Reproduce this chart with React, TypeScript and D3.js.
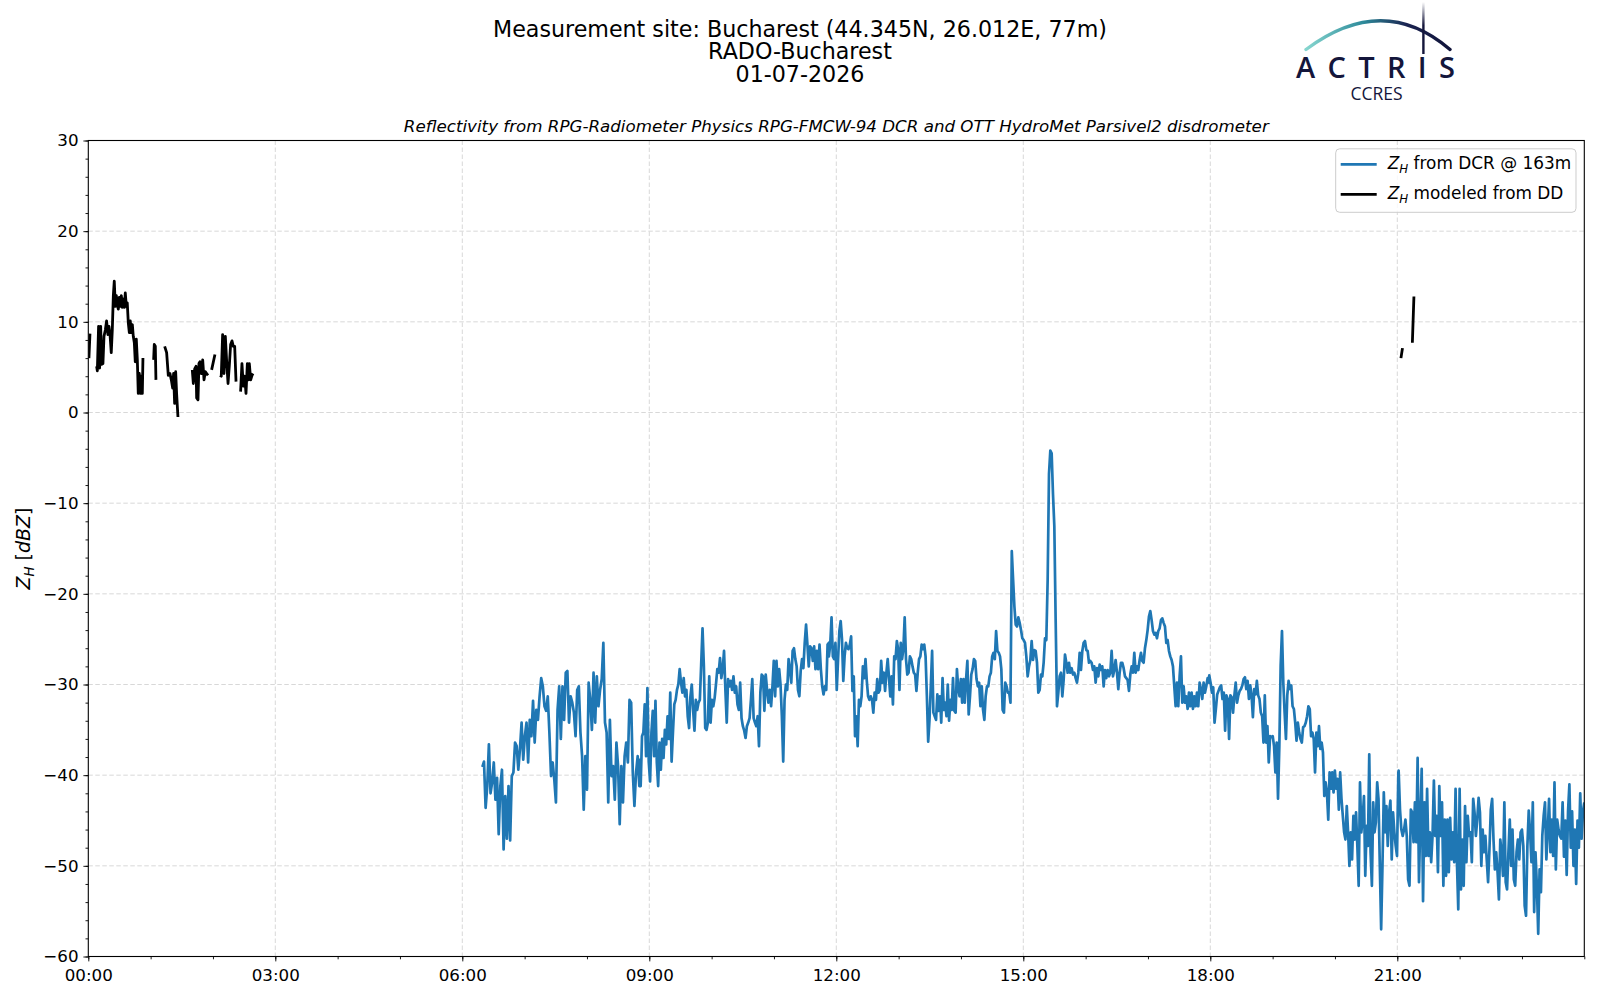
import React, { useRef, useEffect } from "react";
import * as d3 from "d3";

const W = 1600;
const H = 1000;

const titleLines = [
  "Measurement site: Bucharest (44.345N, 26.012E, 77m)",
  "RADO-Bucharest",
  "01-07-2026",
];
const subtitle =
  "Reflectivity from RPG-Radiometer Physics RPG-FMCW-94 DCR and OTT HydroMet Parsivel2 disdrometer";

// axis ticks (x in minutes since 00:00)
const xMajorTicks = [0, 180, 360, 540, 720, 900, 1080, 1260];
const xMinorTicks = d3.range(0, 1441, 60);
const yMajorTicks = [30, 20, 10, 0, -10, -20, -30, -40, -50, -60];
const yMinorTicks = d3.range(-60, 31, 2);

// Z_H modeled from DD: [minute, dBZ], null = no data
const ddReadings: [number, number | null][] = [
  [0.6, 6.0], [1.6, 8.7], [2, null],
  [8.0, 5.1], [8.7, 4.6], [9.9, 9.5], [10.9, 4.9], [11.9, 9.5], [12.8, 5.3], [14.1, 5.4],
  [15.1, 8.4], [16.4, 9.1], [17.6, 10.1], [18.9, 8.6], [19.9, 9.5], [20.9, 8.6], [22.1, 6.6],
  [23.1, 9.1], [24.1, 12.9], [25.0, 14.5], [26.0, 11.7], [27.0, 12.9], [27.9, 11.9], [28.9, 11.4],
  [29.8, 12.7], [30.8, 11.7], [31.8, 12.9], [32.7, 11.6], [33.7, 12.5], [34.7, 11.6], [35.6, 13.2],
  [36.6, 11.7], [37.5, 12.1], [38.5, 9.9], [39.5, 8.8], [40.4, 10.1], [41.4, 8.8], [42.4, 9.7],
  [43.3, 8.4], [44.3, 7.7], [45.2, 5.6], [46.2, 8.1], [47.2, 5.8], [48.1, 2.1], [49.1, 4.3],
  [50.1, 2.1], [51.0, 4.0], [52.0, 2.1], [52.6, 6.0], [53, null],
  [62.9, 5.8], [63.5, 7.5], [64.5, 7.3], [65.1, 3.6], [66, null],
  [73.5, 7.3], [75.4, 6.6], [77.0, 4.1], [78.6, 4.3], [79.9, 3.6], [81.2, 2.7], [82.1, 4.3],
  [83.1, 1.0], [84.1, 4.5], [85.0, 2.1], [86.3, -0.5], [87, null],
  [100.1, 4.7], [101.1, 3.2], [102.4, 4.8], [103.7, 5.1], [104.3, 1.6], [105.6, 1.4], [106.5, 5.4],
  [107.5, 5.6], [108.8, 4.3], [110.1, 5.8], [111.4, 3.6], [112.6, 4.5], [113.9, 4.3], [115.2, 4.1],
  [116, null],
  [118.7, 4.7], [121.9, 6.4], [123, null],
  [126.8, 4.1], [128.0, 4.0], [129.3, 8.6], [130.6, 4.3], [131.9, 8.4], [133.2, 5.6], [134.5, 3.2],
  [135.7, 5.1], [137.0, 7.5], [138.3, 7.9], [139.6, 7.3], [140.9, 7.3], [142.2, 3.4], [143, null],
  [146.6, 2.3], [147.9, 5.4], [149.2, 2.9], [150.5, 4.0], [151.8, 2.1], [153.1, 5.4], [154.0, 3.6],
  [155.0, 5.4], [156.3, 3.6], [157.6, 4.1], [158.5, 4.3], [159, null],
  [1263.5, 6.0], [1265, 7.1], [1266, null],
  [1274.5, 7.7], [1276, 12.8],
];

// Z_H from DCR: readings taken at an even pace inside each block
const dcrBlockStart = [379.3, 530.4, 712.9, 896.5, 1079, 1261.3];
const dcrBlockEnd = [530.4, 712.9, 895.2, 1078.7, 1261, 1440];

const dcr0619 = [
  -39.1, -38.5, -43.6, -41.2, -36.6, -42, -40.8, -38.6, -42.7, -40.3, -46.5, -41.2, -39.4, -48.2,
  -42.3, -47, -41.2, -47.2, -40.1, -39.7, -36.4, -36.8, -39.4, -37.1, -34.2, -38.3, -35.7, -34.2,
  -38.6, -33.9, -35.7, -31.8, -36.4, -32.8, -33.9, -31.3, -29.3, -30.2, -32.4, -32.9, -31.3, -35.3,
  -40.1, -38.6, -40.5, -43, -32.8, -30.2, -36, -30.2, -33.9, -28.7, -28.5, -34.2, -31.3, -32,
  -33.1, -35.7, -30.6, -30.2, -35.3, -37.9, -43.8, -37.9, -41.6, -29.8, -31.7, -35, -28.7, -34.2,
  -29.1, -32.4, -30.6, -29.4, -25.4, -34.2, -35.3, -43, -33.9, -40.1, -39, -42.7, -36.4, -39,
  -45.4, -39, -43, -37.9, -36.4, -38.6, -31.7, -32, -39.7, -43.4, -39.7, -37.9, -41.2,
];

const dcr0850 = [
  -38.3, -41.2, -35.7, -35.3, -32.2, -37.9, -30.4, -38.5, -40.7, -35.3, -32.9, -37.9, -31.8, -38.6,
  -41.2, -36.4, -39.4, -36, -38.1, -35, -36.6, -33.5, -36, -30.9, -38.5, -35.3, -32.2, -31.7,
  -30.6, -30, -28.3, -29.8, -30.9, -29.3, -31.3, -30.6, -33.5, -34.8, -31.3, -30, -32.8, -35.1,
  -31.7, -32.8, -32, -31.7, -27.8, -23.8, -28, -34.8, -35, -34.2, -29.1, -34.2, -31.7, -32.4,
  -31.5, -30, -28.3, -28.7, -27.1, -29.3, -28.3, -26.3, -30.6, -34.2, -29.4, -30.2, -29.6, -30.6,
  -29.1, -30.9, -30.2, -32.2, -32.8, -29.8, -33.7, -34.6, -35.1, -35.9, -34.6, -34.2, -33.7, -31.7,
  -29.4, -33.7, -34.2, -34.6, -33.5, -36.8, -30.9, -28.9, -29.1, -32.9, -28.9, -30.6, -32, -30.6,
  -32.4, -30.2, -27.4, -31.3, -27.4, -30.2, -28.3, -30, -33.5, -38.5, -31.7, -30, -30.6, -27.2,
  -28.3, -29.8, -26.3, -26, -27.2, -28, -30.6, -31.3, -28.5, -27.2, -28.2, -25.4, -23.4, -25.6,
  -28, -25.8, -26, -27.4, -25.8, -28.3, -26.3, -28.3, -25.6, -28.3, -30.2, -31.1, -30.2, -30.6,
  -25.6, -25.4,
];

const dcr1153 = [
  -26.9, -25.6, -22.6, -26.9, -27.2, -25.4, -30.6, -27.2, -24.1, -23, -25, -29.6, -26.9, -25.4,
  -26, -26.1, -25.6, -24.7, -30.7, -29.1, -35.7, -33.5, -36.8, -31.7, -32.4, -31.3, -28, -29.3,
  -27.2, -29.6, -31.3, -31.7, -31.3, -31.7, -33.1, -30.9, -31.7, -29.4, -30.9, -30.6, -27.4, -29.8,
  -28.7, -30.7, -28.7, -27.2, -29.3, -31.3, -29.1, -32.2, -26.9, -27.2, -25.2, -26.1, -30.6, -25.4,
  -27.2, -26.1, -22.6, -27.2, -28.9, -28.7, -26.9, -27.2, -28, -28.7, -28.9, -30.7, -28.7, -27.2,
  -26.9, -25.6, -26.1, -25.6, -26.9, -31.3, -36.3, -33.9, -30.2, -26.3, -33.1, -33.5, -33.9, -31.1,
  -32.9, -31.3, -34.2, -29.3, -32.8, -32, -33.5, -30, -34, -31.7, -32.8, -29.3, -32.9, -33.1,
  -28.3, -30.4, -31.3, -29.4, -32, -29.4, -32, -29.4, -27.4, -33.3, -31.3, -28.9, -28.3, -27.2,
  -27.4, -29.4, -30.2, -29.8, -32.4, -30.2, -32.8, -33.9, -31.3, -30.2, -30.2, -29.1, -28.7, -26.9,
  -26.5, -27.2, -24.1, -26.3, -26.5, -26.9, -28.3, -32.8, -33.1, -29.8, -30.2, -30.9, -30.9, -32,
  -15.3, -18.4, -21.4, -23.4, -23.6, -22.6,
];

const dcr1455 = [
  -23.2, -24, -24.9, -25.1, -25.4, -26.9, -29.1, -28, -27.3, -25.2, -27.3, -26.2, -26.3, -27.6,
  -30.9, -30.6, -28.9, -29.1, -27.6, -24.9, -25.1, -18.5, -6.8, -4.2, -4.5, -9, -12.5, -22.9,
  -32.4, -30.9, -29.1, -28.7, -31.3, -29.5, -26.7, -27.6, -28.7, -27.6, -28.7, -28.2, -28.9, -28.7,
  -29.3, -29.8, -28.7, -26.5, -28.4, -26.3, -25.4, -25.2, -26.2, -26.3, -27.6, -27.4, -27.6, -28.4,
  -28, -29.8, -28.2, -29.1, -27.8, -28.4, -28, -30.2, -28.4, -29.3, -28.4, -29.1, -28.7, -26.3,
  -29.1, -28.4, -27.3, -28.7, -30.5, -28.7, -27.6, -27.6, -28.2, -29.1, -29.3, -29.5, -30.7, -28.9,
  -28, -28.7, -26.5, -28.7, -28, -28.4, -27.3, -26.5, -27.4, -27.6, -26, -25.1, -24, -22.5,
  -21.9, -22.9, -24.1, -24.5, -24.3, -24.9, -24.1, -23.8, -22.9, -22.7, -23.2, -23.6, -25.4, -25.1,
  -26.3, -26.9, -27.3, -28, -30.2, -32.4, -29.8, -32.4, -29.1, -26.9, -32, -30.2, -32, -31.3,
  -32.7, -30.9, -32.4, -30.9, -32.7, -31.3, -32.4, -30.9, -32.4, -29.8, -30.5, -31.6, -29.8, -30.9,
  -30.2, -29.3, -29.8,
];

const dcr1758 = [
  -29, -29.8, -30.9, -30.3, -34.2, -32.7, -31.1, -30.7, -30.3, -30.1, -31.6, -30.9, -35.1, -31.2,
  -31.6, -36, -31.2, -31.4, -33.1, -31.2, -29.8, -32, -31.2, -30.7, -30.5, -30.1, -29.4, -29.2,
  -30.5, -29.6, -31.6, -30.1, -31.2, -33.6, -30.5, -31.1, -29.6, -31.2, -31.6, -33.1, -33.5, -36.4,
  -31.2, -36.4, -34.6, -38.6, -35.7, -35.8, -35.7, -36.8, -39.7, -36.4, -42.6, -36.8, -27.9, -24.1,
  -29.8, -33.1, -36, -31.2, -29.6, -30.5, -30.1, -32.4, -32.7, -34.2, -36.2, -34.2, -35.3, -36,
  -36.4, -34.7, -34.6, -34.2, -33.5, -32.4, -32.7, -35.7, -35.3, -36, -39.7, -35.3, -36.8, -34.6,
  -37.1, -36.4, -37.5, -42.3, -40.8, -41.9, -44.9, -39.7, -41.5, -39.7, -41.9, -39.5, -41.5, -40.4,
  -43.8, -39.7, -42.6, -44.5, -46.3, -47.1, -43.4, -46.3, -50, -46.3, -49.3, -44.5, -47.1, -44.1,
  -47.8, -52.2, -40.8, -46.3, -44.9, -42.3, -51.1, -45.6, -47.8, -37.7, -48.5, -52.2, -43, -46.3,
  -45.2, -40.8, -42.6, -50, -57, -50, -41.9, -46.3, -43.4, -47.8, -44.1, -42.8, -49.3, -44.1,
  -46.3, -47.8, -48.9, -39.7,
];

const dcr2101 = [
  -39.5, -43.8, -46, -46.7, -46, -44.9, -46.7, -51.5, -52.2, -43.8, -44.1, -47.4, -43, -47.4,
  -38.1, -51.8, -44.9, -39.3, -53.9, -43, -48.9, -41.5, -48.9, -46.3, -49.6, -46.7, -40.6, -46.7,
  -44.5, -50.7, -41.2, -46.7, -43, -52.2, -44.9, -51.1, -44.9, -50.7, -44.7, -49.3, -46.3, -49.6,
  -41.5, -49.6, -54.8, -41.5, -52.6, -47.1, -52.2, -43.4, -49.6, -44.5, -46.7, -46.3, -49.6, -42.6,
  -44.1, -46.7, -44.9, -42.5, -44.1, -50, -46, -48.5, -46.7, -49.3, -51.8, -48.2, -43.8, -42.6,
  -47.1, -50.4, -48.5, -50.7, -53.7, -47.1, -48.5, -51.1, -43, -51.8, -52.6, -48.5, -44.9, -50,
  -46, -51.5, -52.2, -48.5, -47.1, -49.3, -46.3, -46, -47.8, -54.4, -55.5, -47.8, -43.9, -46.3,
  -49.6, -43, -55.1, -48.5, -52.2, -57.5, -50.4, -52.9, -46.7, -44.5, -43, -49.3, -46.3, -42.6,
  -48.5, -44.9, -48.9, -40.8, -50.4, -44.9, -46, -46.7, -47, -43, -49, -45, -51, -44, -41, -48,
  -44, -50, -46, -52, -45, -48, -42, -47, -44, -43,
];

const dcrBlocks = [dcr0619, dcr0850, dcr1153, dcr1455, dcr1758, dcr2101];

const DCR_COLOR = "#1f77b4";
const FONT = "DejaVu Sans, sans-serif";
const NAVY = "#14163b";

const fmtTime = (m: number) =>
  `${String(Math.floor(m / 60)).padStart(2, "0")}:${String(m % 60).padStart(2, "0")}`;
const fmtNum = (v: number) => (v < 0 ? `\u2212${Math.abs(v)}` : `${v}`);

// writes "Z_H" as mathtext-like tspans into a text selection
const zh = (t: d3.Selection<SVGTextElement, unknown, null, undefined>, size: number) => {
  t.append("tspan").attr("font-style", "italic").text("Z");
  t.append("tspan")
    .attr("font-style", "italic")
    .attr("font-size", size * 0.7)
    .attr("dy", size * 0.22)
    .text("H");
  return t;
};

const App = () => {
  const ref = useRef<SVGSVGElement | null>(null);

  useEffect(() => {
    if (!ref.current) return;
    const svg = d3.select(ref.current);
    svg.selectAll("*").remove();

    const margin = { top: 140.5, right: 15.7, bottom: 43.5, left: 88.3 };
    const width = W - margin.left - margin.right;
    const height = H - margin.top - margin.bottom;

    const x = d3.scaleLinear().domain([0, 1440]).range([0, width]);
    const y = d3.scaleLinear().domain([-60, 30]).range([height, 0]);

    const defs = svg.append("defs");
    defs
      .append("clipPath")
      .attr("id", "plot-clip")
      .append("rect")
      .attr("width", width)
      .attr("height", height);

    svg.append("rect").attr("width", W).attr("height", H).attr("fill", "#ffffff");

    // titles
    svg
      .append("g")
      .selectAll("text")
      .data(titleLines)
      .join("text")
      .attr("x", 800)
      .attr("y", (_, i) => 36.6 + i * 22.6)
      .attr("text-anchor", "middle")
      .style("font-family", FONT)
      .style("font-size", "22.2px")
      .attr("fill", "#000")
      .text((d) => d);

    svg
      .append("text")
      .attr("x", margin.left + width / 2)
      .attr("y", margin.top - 8.5)
      .attr("text-anchor", "middle")
      .style("font-family", FONT)
      .style("font-size", "16.7px")
      .style("font-style", "italic")
      .text(subtitle);

    const chart = svg
      .append("g")
      .attr("transform", `translate(${margin.left},${margin.top})`);

    // grid lines
    const grid = chart
      .append("g")
      .attr("stroke", "#d4d4d4")
      .attr("stroke-width", 0.9)
      .attr("stroke-dasharray", "4.5,2.5");
    grid
      .selectAll(".gx")
      .data(xMajorTicks.slice(1))
      .join("line")
      .attr("x1", (d) => x(d))
      .attr("x2", (d) => x(d))
      .attr("y1", 0)
      .attr("y2", height);
    grid
      .selectAll(".gy")
      .data(yMajorTicks.slice(1, -1))
      .join("line")
      .attr("x1", 0)
      .attr("x2", width)
      .attr("y1", (d) => y(d))
      .attr("y2", (d) => y(d));

    // DCR line
    const dcrPoints = dcrBlocks.flatMap((vals, i) =>
      vals.map((v, j) => ({
        t: dcrBlockStart[i] + (j * (dcrBlockEnd[i] - dcrBlockStart[i])) / (vals.length - 1),
        v,
      }))
    );
    const line = d3
      .line<{ t: number; v: number | null }>()
      .defined((d) => d.v !== null)
      .x((d) => x(d.t))
      .y((d) => y(d.v as number));

    const plot = chart.append("g").attr("clip-path", "url(#plot-clip)");
    plot
      .append("path")
      .datum(dcrPoints)
      .attr("fill", "none")
      .attr("stroke", DCR_COLOR)
      .attr("stroke-width", 2.7)
      .attr("stroke-linejoin", "round")
      .attr("d", line);

    plot
      .append("path")
      .datum(ddReadings.map(([t, v]) => ({ t, v })))
      .attr("fill", "none")
      .attr("stroke", "#000")
      .attr("stroke-width", 2.8)
      .attr("stroke-linejoin", "round")
      .attr("d", line);

    // axes
    const styleAxis = (g: d3.Selection<SVGGElement, unknown, null, undefined>) =>
      g
        .call((s) => s.select(".domain").remove())
        .call((s) => s.selectAll(".tick line").attr("stroke", "#000").attr("stroke-width", 0.9))
        .call((s) =>
          s
            .selectAll("text")
            .style("font-family", FONT)
            .style("font-size", "16.7px")
            .attr("fill", "#000")
        );

    chart
      .append("g")
      .attr("transform", `translate(0,${height})`)
      .call(d3.axisBottom(x).tickValues(xMinorTicks).tickSize(2.8).tickFormat(() => ""))
      .call(styleAxis);
    chart
      .append("g")
      .attr("transform", `translate(0,${height})`)
      .call(
        d3
          .axisBottom(x)
          .tickValues(xMajorTicks)
          .tickSize(4.9)
          .tickPadding(7.4)
          .tickFormat((d) => fmtTime(d as number))
      )
      .call(styleAxis);

    chart
      .append("g")
      .call(d3.axisLeft(y).tickValues(yMinorTicks).tickSize(2.8).tickFormat(() => ""))
      .call(styleAxis);
    chart
      .append("g")
      .call(
        d3
          .axisLeft(y)
          .tickValues(yMajorTicks)
          .tickSize(4.9)
          .tickPadding(4.9)
          .tickFormat((d) => fmtNum(d as number))
      )
      .call(styleAxis);

    chart
      .append("rect")
      .attr("width", width)
      .attr("height", height)
      .attr("fill", "none")
      .attr("stroke", "#000")
      .attr("stroke-width", 1.1);

    // y label
    const yl = svg
      .append("text")
      .attr("transform", `translate(30,${margin.top + height / 2}) rotate(-90)`)
      .attr("text-anchor", "middle")
      .style("font-family", FONT)
      .style("font-size", "19px");
    zh(yl, 19);
    yl.append("tspan").attr("dy", -19 * 0.22).text(" [");
    yl.append("tspan").attr("font-style", "italic").text("dBZ");
    yl.append("tspan").text("]");

    // legend
    const lg = svg
      .append("g")
      .attr("transform", `translate(${margin.left + width - 8.3 - 240.3},${margin.top + 8.3})`);
    lg.append("rect")
      .attr("width", 240.3)
      .attr("height", 63.5)
      .attr("rx", 4)
      .attr("fill", "#fff")
      .attr("fill-opacity", 0.8)
      .attr("stroke", "#cccccc")
      .attr("stroke-width", 1);
    const items = [
      { color: DCR_COLOR, label: " from DCR @ 163m" },
      { color: "#000", label: " modeled from DD" },
    ];
    items.forEach((it, i) => {
      const cy = 15.5 + i * 30;
      lg.append("line")
        .attr("x1", 5)
        .attr("x2", 41)
        .attr("y1", cy)
        .attr("y2", cy)
        .attr("stroke", it.color)
        .attr("stroke-width", 2.7);
      const t = lg
        .append("text")
        .attr("x", 52)
        .attr("y", cy + 5)
        .style("font-family", FONT)
        .style("font-size", "16.9px");
      zh(t, 16.9);
      t.append("tspan").attr("dy", -16.9 * 0.22).text(it.label);
    });

    // ACTRIS logo
    const arcGrad = defs.append("linearGradient").attr("id", "arc-grad");
    arcGrad.append("stop").attr("offset", "0%").attr("stop-color", "#86d6cf");
    arcGrad.append("stop").attr("offset", "40%").attr("stop-color", "#2d8a9a");
    arcGrad.append("stop").attr("offset", "70%").attr("stop-color", "#1a2350");
    arcGrad.append("stop").attr("offset", "100%").attr("stop-color", "#11143a");
    const barGrad = defs
      .append("linearGradient")
      .attr("id", "bar-grad")
      .attr("x1", 0)
      .attr("y1", 0)
      .attr("x2", 0)
      .attr("y2", 1);
    barGrad.append("stop").attr("offset", "0%").attr("stop-color", NAVY).attr("stop-opacity", 0);
    barGrad.append("stop").attr("offset", "45%").attr("stop-color", NAVY).attr("stop-opacity", 1);

    const logo = svg.append("g");
    logo
      .append("path")
      .attr("d", "M1306,49.5 Q1383,-8 1450,49.5")
      .attr("fill", "none")
      .attr("stroke", "url(#arc-grad)")
      .attr("stroke-width", 3.4)
      .attr("stroke-linecap", "round");
    logo
      .append("rect")
      .attr("x", 1422.2)
      .attr("y", 2)
      .attr("width", 2.4)
      .attr("height", 52)
      .attr("fill", "url(#bar-grad)");
    logo
      .append("text")
      .attr("x", 1296)
      .attr("y", 78)
      .attr("textLength", 159)
      .attr("lengthAdjust", "spacing")
      .style("font-family", "'Open Sans', sans-serif")
      .style("font-size", "29px")
      .style("font-weight", 600)
      .attr("fill", NAVY)
      .text("ACTRIS");
    logo
      .append("text")
      .attr("x", 1376.5)
      .attr("y", 100)
      .attr("text-anchor", "middle")
      .style("font-family", "'Open Sans', sans-serif")
      .style("font-size", "17.5px")
      .attr("fill", NAVY)
      .text("CCRES");
  }, []);

  return (
    <svg
      ref={ref}
      width={W}
      height={H}
      style={{ position: "absolute", left: 0, top: 0, display: "block" }}
    />
  );
};

export default App;
